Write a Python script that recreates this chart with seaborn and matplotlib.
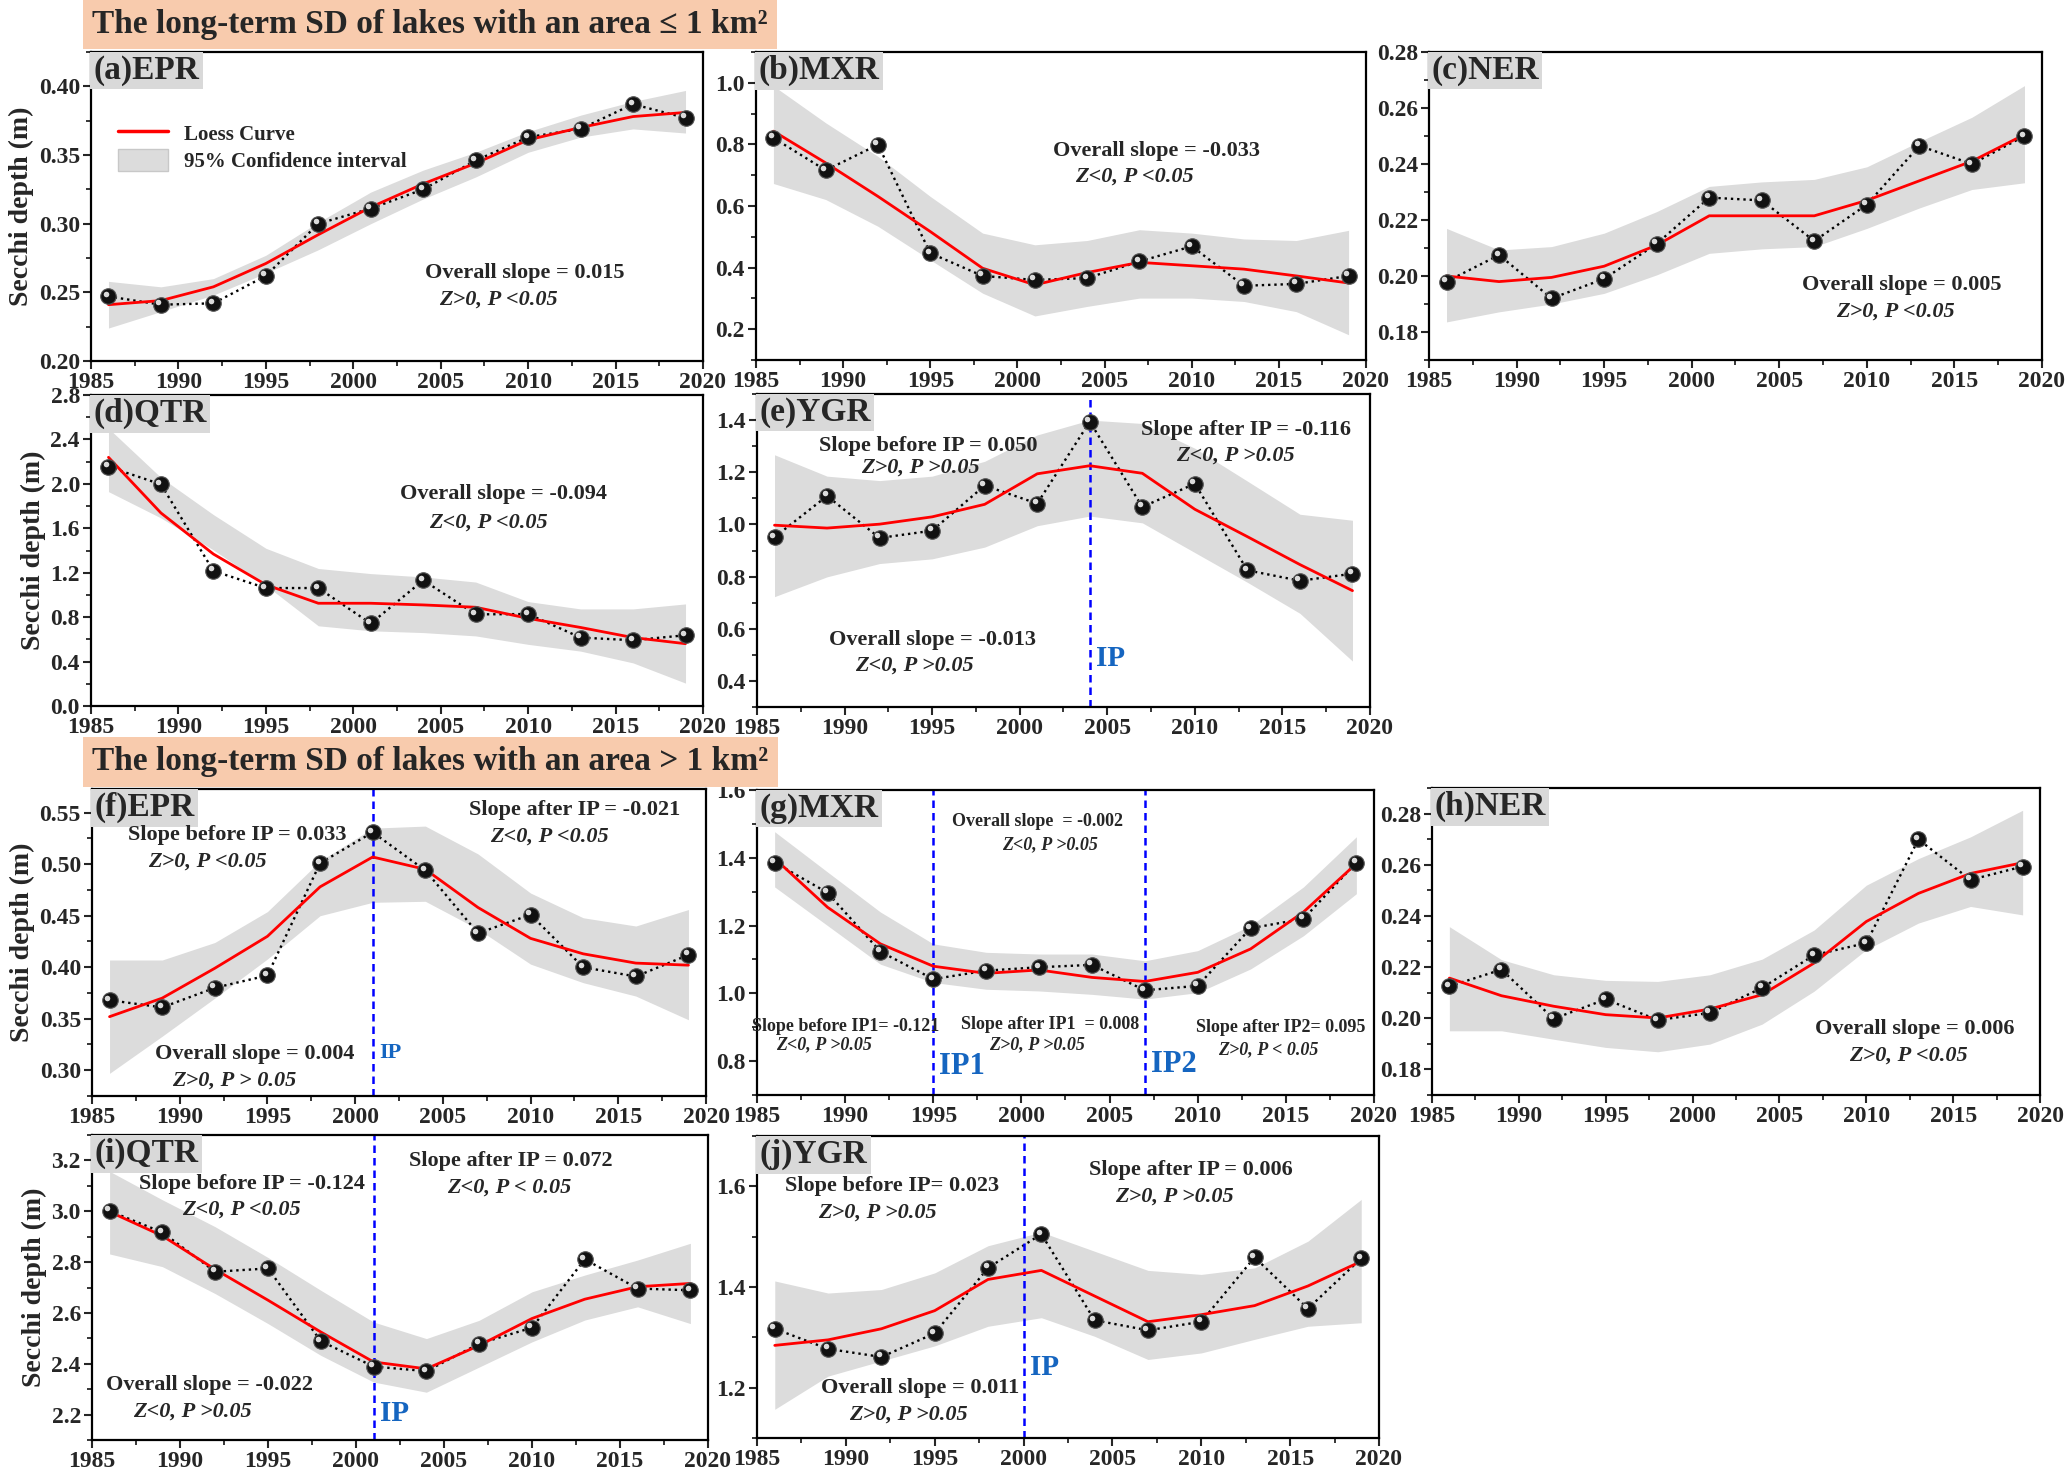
import numpy as np
import pandas as pd
import matplotlib
matplotlib.use("Agg")
import matplotlib.pyplot as plt
from matplotlib.lines import Line2D
from matplotlib.patches import Patch
from matplotlib.ticker import MultipleLocator
from matplotlib.transforms import offset_copy
import seaborn as sns

sns.set_theme(style="ticks")
plt.rcParams['font.family'] = ['Liberation Serif', 'DejaVu Serif']
plt.rcParams['font.weight'] = 'bold'
plt.rcParams['axes.labelweight'] = 'bold'

# sampling years (every 3 years)
years = [1986, 1989, 1992, 1995, 1998, 2001, 2004, 2007, 2010, 2013, 2016, 2019]

# ---- lakes <= 1 km2 ----
a_sd = [0.247, 0.241, 0.242, 0.262, 0.300, 0.311, 0.325, 0.346, 0.363, 0.369, 0.387, 0.377]
a_loess = [0.241, 0.244, 0.254, 0.271, 0.292, 0.312, 0.329, 0.344, 0.361, 0.370, 0.378, 0.381]
a_upper = [0.258, 0.254, 0.260, 0.277, 0.301, 0.323, 0.339, 0.352, 0.367, 0.379, 0.389, 0.397]
a_lower = [0.224, 0.236, 0.248, 0.264, 0.281, 0.300, 0.318, 0.334, 0.352, 0.363, 0.369, 0.366]

b_sd = [0.821, 0.716, 0.799, 0.447, 0.373, 0.360, 0.366, 0.420, 0.469, 0.341, 0.347, 0.373]
b_loess = [0.843, 0.740, 0.631, 0.517, 0.398, 0.344, 0.384, 0.417, 0.406, 0.395, 0.373, 0.350]
b_upper = [0.99, 0.87, 0.761, 0.631, 0.512, 0.474, 0.488, 0.523, 0.512, 0.493, 0.488, 0.521]
b_lower = [0.673, 0.621, 0.534, 0.425, 0.317, 0.243, 0.274, 0.301, 0.301, 0.290, 0.257, 0.182]

c_sd = [0.198, 0.2075, 0.192, 0.199, 0.2115, 0.228, 0.227, 0.2125, 0.2255, 0.2465, 0.240, 0.250]
c_loess = [0.200, 0.198, 0.1995, 0.2035, 0.211, 0.2215, 0.2215, 0.2215, 0.227, 0.234, 0.241, 0.2505]
c_upper = [0.217, 0.2093, 0.2105, 0.2153, 0.223, 0.232, 0.2336, 0.2345, 0.239, 0.248, 0.2567, 0.268]
c_lower = [0.1836, 0.1872, 0.190, 0.1938, 0.2004, 0.2081, 0.2097, 0.2105, 0.217, 0.2243, 0.2309, 0.2333]

d_sd = [2.154, 1.996, 1.216, 1.062, 1.062, 0.743, 1.132, 0.825, 0.828, 0.616, 0.592, 0.637]
d_loess = [2.239, 1.738, 1.368, 1.092, 0.925, 0.925, 0.910, 0.889, 0.789, 0.707, 0.616, 0.561]
d_upper = [2.50, 2.057, 1.723, 1.420, 1.238, 1.192, 1.162, 1.116, 0.940, 0.874, 0.874, 0.919]
d_lower = [1.93, 1.693, 1.405, 1.086, 0.722, 0.677, 0.661, 0.631, 0.555, 0.494, 0.388, 0.206]

e_sd = [0.951, 1.109, 0.948, 0.976, 1.149, 1.080, 1.394, 1.067, 1.156, 0.824, 0.784, 0.811]
e_loess = [0.997, 0.986, 1.001, 1.029, 1.077, 1.194, 1.225, 1.196, 1.058, 0.953, 0.846, 0.746]
e_upper = [1.267, 1.185, 1.168, 1.185, 1.242, 1.343, 1.400, 1.387, 1.292, 1.166, 1.039, 1.016]
e_lower = [0.723, 0.799, 0.850, 0.868, 0.913, 0.995, 1.032, 1.006, 0.892, 0.778, 0.659, 0.476]

# ---- lakes > 1 km2 ----
f_sd = [0.368, 0.361, 0.380, 0.392, 0.501, 0.531, 0.494, 0.433, 0.451, 0.400, 0.391, 0.412]
f_loess = [0.352, 0.370, 0.399, 0.430, 0.478, 0.507, 0.495, 0.458, 0.428, 0.413, 0.404, 0.402]
f_upper = [0.407, 0.407, 0.424, 0.454, 0.503, 0.535, 0.537, 0.510, 0.472, 0.448, 0.440, 0.456]
f_lower = [0.297, 0.333, 0.370, 0.408, 0.450, 0.463, 0.464, 0.437, 0.403, 0.385, 0.372, 0.349]

g_sd = [1.386, 1.297, 1.123, 1.042, 1.067, 1.077, 1.084, 1.009, 1.022, 1.192, 1.220, 1.386]
g_loess = [1.398, 1.254, 1.146, 1.080, 1.059, 1.069, 1.047, 1.035, 1.062, 1.131, 1.240, 1.383]
g_upper = [1.477, 1.358, 1.240, 1.146, 1.121, 1.116, 1.116, 1.096, 1.126, 1.200, 1.314, 1.462]
g_lower = [1.314, 1.200, 1.086, 1.032, 1.012, 1.007, 0.997, 0.983, 1.002, 1.072, 1.170, 1.294]

h_sd = [0.2125, 0.219, 0.1998, 0.2074, 0.1993, 0.2021, 0.2119, 0.2247, 0.2294, 0.2699, 0.2541, 0.2593]
h_loess = [0.2157, 0.2088, 0.2047, 0.2014, 0.2001, 0.2036, 0.2092, 0.2216, 0.2378, 0.2488, 0.2566, 0.2608]
h_upper = [0.2358, 0.2229, 0.217, 0.2148, 0.2144, 0.217, 0.2231, 0.2345, 0.252, 0.2624, 0.2709, 0.2813]
h_lower = [0.1951, 0.1951, 0.1918, 0.1886, 0.1869, 0.1899, 0.1977, 0.2106, 0.2268, 0.2372, 0.2437, 0.2404]

i_sd = [3.001, 2.917, 2.762, 2.775, 2.489, 2.389, 2.371, 2.479, 2.542, 2.811, 2.696, 2.689]
i_loess = [2.998, 2.903, 2.771, 2.650, 2.525, 2.407, 2.380, 2.472, 2.578, 2.654, 2.703, 2.716]
i_upper = [3.157, 3.045, 2.939, 2.818, 2.689, 2.564, 2.499, 2.571, 2.683, 2.749, 2.808, 2.874]
i_lower = [2.832, 2.782, 2.676, 2.558, 2.433, 2.328, 2.288, 2.387, 2.486, 2.572, 2.624, 2.558]

j_sd = [1.317, 1.277, 1.261, 1.308, 1.438, 1.505, 1.334, 1.314, 1.331, 1.459, 1.357, 1.457]
j_loess = [1.284, 1.295, 1.317, 1.353, 1.415, 1.433, 1.382, 1.331, 1.345, 1.363, 1.402, 1.451]
j_upper = [1.412, 1.388, 1.395, 1.428, 1.482, 1.509, 1.471, 1.433, 1.425, 1.438, 1.491, 1.574]
j_lower = [1.157, 1.223, 1.253, 1.283, 1.322, 1.339, 1.302, 1.256, 1.269, 1.296, 1.322, 1.329]

W, H = 2067, 1468
fig = plt.figure(figsize=(W / 100, H / 100), dpi=100)

BAND = '#dcdcdc'
IPBLUE = '#1565c0'


def rect(x0, y0, x1, y1):
    return [x0 / W, 1 - y1 / H, (x1 - x0) / W, (y1 - y0) / H]


def panel(box, label, sd, loess, upper, lower, ylim, ymajor, yminor, ylabel=False, fmt='%.2f'):
    ax = fig.add_axes(rect(*box))
    ax.fill_between(years, lower, upper, color=BAND, lw=0, zorder=1)
    df = pd.DataFrame({'Year': years, 'SD': sd, 'Loess': loess})
    sns.lineplot(data=df, x='Year', y='SD', ax=ax, color='black', linestyle=':', lw=1.7, zorder=2)
    sns.lineplot(data=df, x='Year', y='Loess', ax=ax, color='#ff0000', lw=2.0, zorder=3)
    sns.scatterplot(data=df, x='Year', y='SD', ax=ax, color='#111111', s=125,
                    edgecolor='#555555', linewidth=0.8, zorder=4)
    # little highlight to give the balls a shiny look
    hl = offset_copy(ax.transData, fig=fig, x=-2.5, y=2.5, units='dots')
    ax.scatter(years, sd, s=16, color='white', alpha=0.85, lw=0, transform=hl, zorder=5)

    ax.set_xlim(1985, 2020)
    ax.set_ylim(*ylim)
    ax.xaxis.set_major_locator(MultipleLocator(5))
    ax.xaxis.set_minor_locator(MultipleLocator(2.5))
    ax.yaxis.set_major_locator(MultipleLocator(ymajor))
    ax.yaxis.set_minor_locator(MultipleLocator(yminor))
    ax.yaxis.set_major_formatter(matplotlib.ticker.FormatStrFormatter(fmt))
    ax.tick_params(which='major', direction='out', length=6, width=1.5, labelsize=17,
                   top=False, right=False, pad=2)
    ax.tick_params(which='minor', direction='out', length=3.5, width=1.3, top=False, right=False)
    for lab in ax.get_xticklabels() + ax.get_yticklabels():
        lab.set_fontweight('bold')
    for sp in ax.spines.values():
        sp.set_linewidth(1.6)
        sp.set_color('black')
    ax.set_xlabel('')
    if ylabel:
        ax.set_ylabel('Secchi depth (m)', fontsize=20, fontweight='bold', labelpad=3)
    else:
        ax.set_ylabel('')
    ax.text(0.004, 0.99, label, transform=ax.transAxes, ha='left', va='top', fontsize=24,
            fontweight='bold', zorder=6,
            bbox=dict(boxstyle='square,pad=0.1', facecolor='#d9d9d9', edgecolor='none'))
    return ax


def note(ax, x, y, txt, size=16, italic=False):
    ax.text(x, y, txt, ha='center', va='center', fontsize=size, fontweight='bold',
            style='italic' if italic else 'normal', zorder=7)


def ip_line(ax, x, label, y, size=21):
    ax.axvline(x, color='#0000ff', ls=(0, (3, 2)), lw=1.8, zorder=2)
    ax.text(x + 0.35, y, label, ha='left', va='center', fontsize=size, fontweight='bold',
            color=IPBLUE, zorder=7)


# banners
for ytop, txt in [(24, 'The long-term SD of lakes with an area \u2264 1 km\u00b2'),
                  (762, 'The long-term SD of lakes with an area > 1 km\u00b2')]:
    fig.text(92 / W, 1 - ytop / H, txt, ha='left', va='center', fontsize=24, fontweight='bold',
             bbox=dict(boxstyle='square,pad=0.28', facecolor='#f8cbad', edgecolor='none'))

# (a)
ax = panel((91, 52, 703, 361), '(a)EPR', a_sd, a_loess, a_upper, a_lower,
           (0.20, 0.425), 0.05, 0.025, ylabel=True)
note(ax, 2009.8, 0.264, 'Overall slope = 0.015')
note(ax, 2008.3, 0.2445, 'Z>0, P <0.05', italic=True)
handles = [Line2D([], [], color='#ff0000', lw=2.5),
           Patch(facecolor=BAND, edgecolor='#c8c8c8')]
ax.legend(handles, ['Loess Curve', '95% Confidence interval'], loc='upper left',
          bbox_to_anchor=(0.03, 0.80), frameon=False, fontsize=15, handlelength=2.4,
          handleheight=1.3, labelspacing=0.15, borderaxespad=0)

# (b)
ax = panel((756, 52, 1366, 360), '(b)MXR', b_sd, b_loess, b_upper, b_lower,
           (0.1, 1.1), 0.2, 0.1, fmt='%.1f')
note(ax, 2008.0, 0.78, 'Overall slope = -0.033')
note(ax, 2006.7, 0.696, 'Z<0, P <0.05', italic=True)

# (c)
ax = panel((1429, 52, 2042, 360), '(c)NER', c_sd, c_loess, c_upper, c_lower,
           (0.17, 0.28), 0.02, 0.01)
note(ax, 2012.0, 0.1968, 'Overall slope = 0.005')
note(ax, 2011.6, 0.1872, 'Z>0, P <0.05', italic=True)

# (d)
ax = panel((91, 395, 703, 706), '(d)QTR', d_sd, d_loess, d_upper, d_lower,
           (0.0, 2.8), 0.4, 0.2, ylabel=True, fmt='%.1f')
note(ax, 2008.6, 1.905, 'Overall slope = -0.094')
note(ax, 2007.7, 1.647, 'Z<0, P <0.05', italic=True)

# (e)
ax = panel((757, 394, 1370, 707), '(e)YGR', e_sd, e_loess, e_upper, e_lower,
           (0.3, 1.5), 0.2, 0.1, fmt='%.1f')
ip_line(ax, 2004, 'IP', 0.485)
note(ax, 1994.8, 1.299, 'Slope before IP = 0.050')
note(ax, 1994.3, 1.219, 'Z>0, P >0.05', italic=True)
note(ax, 2012.9, 1.362, 'Slope after IP = -0.116')
note(ax, 2012.3, 1.264, 'Z<0, P >0.05', italic=True)
note(ax, 1995.0, 0.558, 'Overall slope = -0.013')
note(ax, 1994.0, 0.457, 'Z<0, P >0.05', italic=True)

# (f)
ax = panel((92, 789, 706, 1096), '(f)EPR', f_sd, f_loess, f_upper, f_lower,
           (0.275, 0.573), 0.05, 0.025, ylabel=True)
ip_line(ax, 2001, 'IP', 0.317, size=16)
note(ax, 1993.3, 0.528, 'Slope before IP = 0.033')
note(ax, 1991.6, 0.503, 'Z>0, P <0.05', italic=True)
note(ax, 2012.5, 0.553, 'Slope after IP = -0.021')
note(ax, 2011.1, 0.527, 'Z<0, P <0.05', italic=True)
note(ax, 1994.3, 0.316, 'Overall slope = 0.004')
note(ax, 1993.1, 0.290, 'Z>0, P > 0.05', italic=True)

# (g)
ax = panel((757, 790, 1374, 1095), '(g)MXR', g_sd, g_loess, g_upper, g_lower,
           (0.7, 1.6), 0.2, 0.1, fmt='%.1f')
ip_line(ax, 1995, 'IP1', 0.785, size=22)
ip_line(ax, 2007, 'IP2', 0.79, size=22)
note(ax, 2000.9, 1.506, 'Overall slope  = -0.002', size=13)
note(ax, 2001.6, 1.439, 'Z<0, P >0.05', size=13, italic=True)
note(ax, 1990.0, 0.903, 'Slope before IP1= -0.121', size=13)
note(ax, 1988.8, 0.847, 'Z<0, P >0.05', size=13, italic=True)
note(ax, 2001.6, 0.908, 'Slope after IP1  = 0.008', size=13)
note(ax, 2000.9, 0.849, 'Z>0, P >0.05', size=13, italic=True)
note(ax, 2014.7, 0.898, 'Slope after IP2= 0.095', size=13)
note(ax, 2014.0, 0.835, 'Z>0, P < 0.05', size=13, italic=True)

# (h)
ax = panel((1432, 788, 2040, 1095), '(h)NER', h_sd, h_loess, h_upper, h_lower,
           (0.17, 0.29), 0.02, 0.01)
note(ax, 2012.8, 0.1958, 'Overall slope = 0.006')
note(ax, 2012.4, 0.1855, 'Z>0, P <0.05', italic=True)

# (i)
ax = panel((92, 1135, 708, 1440), '(i)QTR', i_sd, i_loess, i_upper, i_lower,
           (2.1, 3.3), 0.2, 0.1, ylabel=True, fmt='%.1f')
ip_line(ax, 2001, 'IP', 2.205)
note(ax, 1994.1, 3.108, 'Slope before IP = -0.124')
note(ax, 1993.5, 3.005, 'Z<0, P <0.05', italic=True)
note(ax, 2008.8, 3.196, 'Slope after IP = 0.072')
note(ax, 2008.7, 3.095, 'Z<0, P < 0.05', italic=True)
note(ax, 1991.7, 2.318, 'Overall slope = -0.022')
note(ax, 1990.7, 2.213, 'Z<0, P >0.05', italic=True)

# (j)
ax = panel((757, 1136, 1379, 1438), '(j)YGR', j_sd, j_loess, j_upper, j_lower,
           (1.1, 1.7), 0.2, 0.1, fmt='%.1f')
ip_line(ax, 2000, 'IP', 1.24)
note(ax, 1992.6, 1.600, 'Slope before IP= 0.023')
note(ax, 1991.8, 1.547, 'Z>0, P >0.05', italic=True)
note(ax, 2009.4, 1.632, 'Slope after IP = 0.006')
note(ax, 2008.5, 1.579, 'Z>0, P >0.05', italic=True)
note(ax, 1994.2, 1.200, 'Overall slope = 0.011')
note(ax, 1993.5, 1.147, 'Z>0, P >0.05', italic=True)

fig.savefig('out.png', dpi=100)
